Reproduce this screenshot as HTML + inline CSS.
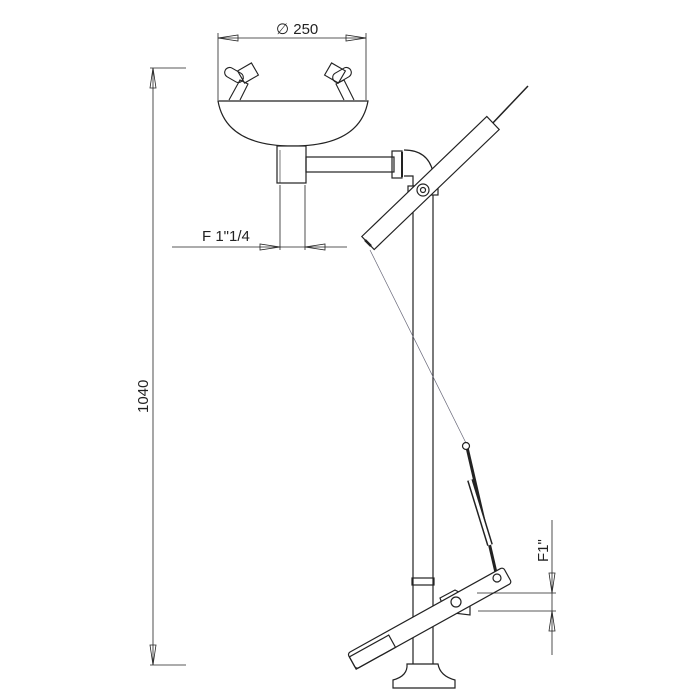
<!DOCTYPE html>
<html><head><style>body{margin:0;background:#fff}svg{display:block}text{font-family:"Liberation Sans",sans-serif;fill:#222}</style></head>
<body>
<svg width="700" height="700" viewBox="0 0 700 700" xmlns="http://www.w3.org/2000/svg" fill="none" stroke="#222" stroke-width="1.2">
<line x1="218" y1="33" x2="218" y2="100" stroke-width="0.8"/>
<line x1="366" y1="33" x2="366" y2="100" stroke-width="0.8"/>
<line x1="218" y1="38" x2="366" y2="38" stroke-width="0.8"/>
<polygon points="218,38 238,35 238,41" stroke-width="0.8"/>
<polygon points="366,38 346,35 346,41" stroke-width="0.8"/>
<text x="276" y="34" font-size="15" stroke="none">∅ 250</text>
<g stroke-width="1.1">
<rect x="224" y="70" width="20" height="10" rx="5" transform="rotate(30 234 75)"/>
<rect x="240" y="66" width="16" height="14" transform="rotate(-30 248 73)"/>
<path d="M229 100 L240 80 L248 84 L240 100"/>
<rect x="332" y="70" width="20" height="10" rx="5" transform="rotate(-30 342 75)"/>
<rect x="327" y="66" width="16" height="14" transform="rotate(30 335 73)"/>
<path d="M354 100 L344 80 L336 84 L344 100"/>
</g>
<path d="M218 101 L368 101 Q360 146 293 146 Q226 146 218 101 Z" fill="#fff"/>
<rect x="277" y="146" width="29" height="37" fill="#fff"/>
<line x1="280" y1="150" x2="280" y2="183" stroke-width="0.6"/>
<rect x="306" y="157" width="88" height="15"/>
<rect x="392" y="151" width="10" height="27"/>
<line x1="402" y1="152" x2="402" y2="177" stroke-width="2"/>
<path d="M404 150 Q428 150 433 172 L433 186 L413 186 L413 176 L404 176"/>
<rect x="408" y="186" width="30" height="9"/>
<line x1="413" y1="195" x2="413" y2="664"/>
<line x1="433" y1="195" x2="433" y2="664"/>
<rect x="412" y="578" width="22" height="7"/>
<path d="M407 664 L438 664 Q440 676 455 680 L455 688 L393 688 L393 680 Q408 676 407 664 Z"/>
<!-- upper arm -->
<line x1="490" y1="126" x2="528" y2="86" stroke-width="1.5"/>
<polygon points="361.8,236.5 486.8,116.5 499.2,129.5 374.2,249.5" fill="#fff"/>
<line x1="365" y1="240" x2="371" y2="246" stroke-width="2.5"/>
<circle cx="423" cy="190" r="6" fill="#fff"/>
<circle cx="423" cy="190" r="2.5"/>
<line x1="370" y1="250" x2="466" y2="443" stroke="#667" stroke-width="0.7"/>
<line x1="466" y1="443" x2="497" y2="577" stroke-width="3"/>
<line x1="470" y1="480" x2="490" y2="545" stroke-width="6"/>
<line x1="470" y1="480" x2="490" y2="545" stroke="#fff" stroke-width="3"/>
<circle cx="466" cy="446" r="3.5" fill="#fff"/>
<path d="M440 598 L455 590 L470 598 L470 615 L445 612 Z" fill="#fff"/>
<g transform="rotate(-29 500 578)">
<rect x="330" y="570" width="178" height="18" rx="3" fill="#fff"/>
<rect x="330" y="574" width="45" height="14"/>
</g>
<circle cx="497" cy="578" r="4" fill="#fff"/>
<circle cx="456" cy="602" r="5" fill="#fff"/>
<line x1="280" y1="185" x2="280" y2="250" stroke-width="0.8"/>
<line x1="305" y1="185" x2="305" y2="250" stroke-width="0.8"/>
<line x1="172" y1="247" x2="347" y2="247" stroke-width="0.8"/>
<polygon points="280,247 260,244 260,250" stroke-width="0.8"/>
<polygon points="305,247 325,244 325,250" stroke-width="0.8"/>
<text x="202" y="241" font-size="15" stroke="none">F 1"1/4</text>
<line x1="150" y1="68" x2="186" y2="68" stroke-width="0.8"/>
<line x1="150" y1="665" x2="186" y2="665" stroke-width="0.8"/>
<line x1="153" y1="68" x2="153" y2="665" stroke-width="0.8"/>
<polygon points="153,68 150,88 156,88" stroke-width="0.8"/>
<polygon points="153,665 150,645 156,645" stroke-width="0.8"/>
<text x="0" y="0" font-size="15" stroke="none" transform="translate(148 413) rotate(-90)">1040</text>
<line x1="477" y1="593" x2="556" y2="593" stroke-width="0.8"/>
<line x1="478" y1="611" x2="556" y2="611" stroke-width="0.8"/>
<line x1="552" y1="520" x2="552" y2="655" stroke-width="0.8"/>
<polygon points="552,593 549,573 555,573" stroke-width="0.8"/>
<polygon points="552,611 549,631 555,631" stroke-width="0.8"/>
<text x="0" y="0" font-size="15" stroke="none" transform="translate(548 562) rotate(-90)">F1"</text>
</svg>
</body></html>
